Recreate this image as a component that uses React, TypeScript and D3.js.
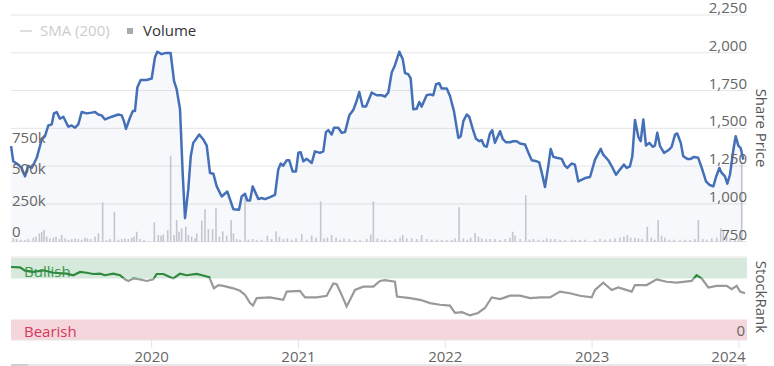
import React from "react";
import * as d3 from "d3";

// ---------- DATA (time in decimal years) ----------
const priceTimes = [
  2019.042, 2019.057, 2019.091, 2019.114, 2019.137, 2019.159, 2019.183, 2019.217, 2019.251, 2019.273,
  2019.296, 2019.319, 2019.334, 2019.353, 2019.375, 2019.398, 2019.432, 2019.455, 2019.478, 2019.5,
  2019.523, 2019.557, 2019.591, 2019.614, 2019.636, 2019.659, 2019.682, 2019.728, 2019.772, 2019.796,
  2019.811, 2019.825, 2019.852, 2019.871, 2019.886, 2019.902, 2019.925, 2019.966, 2020.0, 2020.022,
  2020.038, 2020.068, 2020.091, 2020.129, 2020.152, 2020.17, 2020.193, 2020.211, 2020.227, 2020.249,
  2020.266, 2020.283, 2020.324, 2020.352, 2020.375, 2020.397, 2020.42, 2020.443, 2020.477, 2020.515,
  2020.556, 2020.595, 2020.613, 2020.636, 2020.651, 2020.67, 2020.688, 2020.726, 2020.749, 2020.772,
  2020.806, 2020.84, 2020.862, 2020.879, 2020.896, 2020.92, 2020.937, 2020.96, 2020.983, 2020.999,
  2021.015, 2021.033, 2021.056, 2021.09, 2021.112, 2021.146, 2021.169, 2021.187, 2021.203, 2021.226,
  2021.242, 2021.271, 2021.294, 2021.317, 2021.346, 2021.373, 2021.396, 2021.414, 2021.437, 2021.46,
  2021.499, 2021.533, 2021.567, 2021.589, 2021.612, 2021.635, 2021.657, 2021.687, 2021.71, 2021.726,
  2021.748, 2021.764, 2021.782, 2021.805, 2021.823, 2021.839, 2021.873, 2021.896, 2021.918, 2021.937,
  2021.959, 2021.975, 2022.01, 2022.032, 2022.059, 2022.089, 2022.105, 2022.123, 2022.146, 2022.163,
  2022.187, 2022.209, 2022.232, 2022.248, 2022.264, 2022.282, 2022.304, 2022.32, 2022.338, 2022.373,
  2022.391, 2022.413, 2022.441, 2022.463, 2022.486, 2022.509, 2022.543, 2022.572, 2022.589, 2022.623,
  2022.64, 2022.663, 2022.679, 2022.702, 2022.718, 2022.736, 2022.759, 2022.793, 2022.815, 2022.831,
  2022.86, 2022.883, 2022.906, 2022.952, 2022.986, 2023.02, 2023.059, 2023.076, 2023.11, 2023.134,
  2023.163, 2023.19, 2023.217, 2023.236, 2023.258, 2023.274, 2023.292, 2023.315, 2023.331, 2023.349,
  2023.367, 2023.39, 2023.413, 2023.428, 2023.444, 2023.463, 2023.49, 2023.519, 2023.542, 2023.565,
  2023.58, 2023.604, 2023.621, 2023.649, 2023.672, 2023.694, 2023.723, 2023.747, 2023.776, 2023.798,
  2023.826, 2023.844, 2023.867, 2023.883, 2023.905, 2023.921, 2023.939, 2023.962, 2023.978, 2023.996,
  2024.012, 2024.03,
];
const priceValues = [
  1382, 1282, 1260, 1238, 1182, 1253, 1238, 1305, 1426, 1448,
  1519, 1526, 1599, 1608, 1564, 1577, 1511, 1519, 1504, 1526,
  1608, 1599, 1604, 1608, 1592, 1586, 1559, 1577, 1592, 1586,
  1548, 1497, 1570, 1614, 1614, 1770, 1820, 1820, 1830, 1969,
  2007, 1991, 1998, 1998, 1814, 1759, 1626, 1205, 906, 1094,
  1315, 1404, 1459, 1426, 1386, 1205, 1200, 1116, 1049, 1082,
  965, 961, 1049, 1067, 1023, 1023, 1116, 1032, 1039, 1032,
  1045, 1060, 1227, 1267, 1253, 1289, 1289, 1215, 1215, 1338,
  1342, 1282, 1298, 1271, 1348, 1338, 1348, 1475, 1488, 1459,
  1504, 1504, 1471, 1475, 1586, 1621, 1681, 1741, 1644, 1644,
  1737, 1719, 1719, 1710, 1737, 1870, 1918, 2007, 1958, 1865,
  1858, 1830, 1626, 1630, 1674, 1644, 1719, 1725, 1719, 1792,
  1799, 1763, 1763, 1714, 1614, 1437, 1448, 1548, 1592, 1577,
  1497, 1431, 1415, 1422, 1386, 1378, 1466, 1488, 1404, 1481,
  1431, 1408, 1408, 1415, 1415, 1400, 1393, 1326, 1289, 1282,
  1275, 1182, 1112, 1253, 1364, 1311, 1305, 1298, 1253, 1238,
  1267, 1260, 1149, 1171, 1178, 1293, 1364, 1326, 1289, 1249,
  1193, 1227, 1260, 1238, 1249, 1315, 1555, 1444, 1415, 1559,
  1386, 1404, 1378, 1386, 1471, 1382, 1338, 1355, 1378, 1459,
  1466, 1404, 1315, 1298, 1298, 1311, 1305, 1238, 1149, 1127,
  1116, 1178, 1238, 1205, 1182, 1134, 1193, 1355, 1448, 1386,
  1370, 1293,
];

// volume in thousands of shares
const volumeTimes = [
  2019.058, 2019.08, 2019.108, 2019.137, 2019.16, 2019.194, 2019.212, 2019.235, 2019.251, 2019.267,
  2019.285, 2019.307, 2019.33, 2019.348, 2019.371, 2019.387, 2019.41, 2019.432, 2019.455, 2019.478,
  2019.5, 2019.523, 2019.546, 2019.562, 2019.584, 2019.614, 2019.637, 2019.666, 2019.693, 2019.716,
  2019.746, 2019.773, 2019.796, 2019.818, 2019.841, 2019.864, 2019.88, 2019.898, 2019.921, 2019.948,
  2020.018, 2020.045, 2020.064, 2020.079, 2020.109, 2020.129, 2020.152, 2020.17, 2020.186, 2020.204,
  2020.232, 2020.25, 2020.272, 2020.295, 2020.307, 2020.341, 2020.363, 2020.386, 2020.415, 2020.438,
  2020.461, 2020.484, 2020.511, 2020.541, 2020.557, 2020.579, 2020.602, 2020.636, 2020.658, 2020.688,
  2020.715, 2020.749, 2020.788, 2020.817, 2020.847, 2020.87, 2020.897, 2020.924, 2020.954, 2020.983,
  2021.022, 2021.056, 2021.09, 2021.12, 2021.151, 2021.174, 2021.197, 2021.226, 2021.256, 2021.283,
  2021.31, 2021.346, 2021.385, 2021.419, 2021.465, 2021.492, 2021.51, 2021.537, 2021.567, 2021.589,
  2021.624, 2021.658, 2021.692, 2021.71, 2021.737, 2021.771, 2021.805, 2021.839, 2021.873, 2021.907,
  2021.942, 2021.976, 2022.01, 2022.044, 2022.066, 2022.094, 2022.123, 2022.151, 2022.173, 2022.203,
  2022.226, 2022.248, 2022.278, 2022.305, 2022.339, 2022.373, 2022.407, 2022.441, 2022.459, 2022.475,
  2022.51, 2022.548, 2022.573, 2022.6, 2022.634, 2022.668, 2022.691, 2022.718, 2022.747, 2022.782,
  2022.816, 2022.861, 2022.884, 2022.918, 2022.952, 2023.02, 2023.054, 2023.088, 2023.122, 2023.156,
  2023.19, 2023.217, 2023.24, 2023.263, 2023.292, 2023.315, 2023.34, 2023.376, 2023.404, 2023.427,
  2023.45, 2023.473, 2023.496, 2023.526, 2023.558, 2023.599, 2023.633, 2023.667, 2023.701, 2023.724,
  2023.754, 2023.781, 2023.815, 2023.849, 2023.876, 2023.894, 2023.917, 2023.94, 2023.974, 2023.999,
  2024.019,
];
const volumeValues = [
  26, 21, 16, 13, 21, 32, 40, 66, 79, 93,
  40, 26, 32, 40, 21, 53, 26, 16, 21, 26,
  21, 16, 32, 26, 21, 40, 66, 312, 13, 21,
  238, 16, 21, 26, 21, 32, 40, 79, 21, 13,
  153, 53, 48, 58, 93, 683, 53, 172, 79, 106,
  119, 53, 40, 26, 66, 167, 259, 100, 100, 267,
  40, 82, 48, 172, 66, 21, 16, 373, 16, 21,
  13, 16, 48, 21, 82, 40, 21, 26, 16, 26,
  61, 16, 48, 32, 320, 26, 32, 53, 32, 16,
  26, 21, 13, 13, 21, 58, 320, 26, 16, 16,
  13, 21, 32, 53, 26, 26, 21, 53, 21, 16,
  16, 13, 13, 13, 26, 273, 26, 16, 32, 69,
  40, 26, 21, 21, 21, 13, 21, 32, 79, 48,
  21, 370, 16, 21, 16, 13, 26, 21, 21, 16,
  13, 16, 13, 13, 16, 13, 21, 16, 21, 26,
  32, 40, 53, 32, 32, 26, 21, 119, 32, 16,
  172, 48, 32, 16, 16, 13, 16, 13, 21, 172,
  21, 16, 26, 32, 106, 93, 40, 26, 21, 32,
  635,
];

const rankTimes = [
  2019.042, 2019.103, 2019.137, 2019.193, 2019.262, 2019.33, 2019.421, 2019.466, 2019.512, 2019.557,
  2019.602, 2019.648, 2019.682, 2019.738, 2019.784, 2019.818, 2019.841, 2019.875, 2019.92, 2019.966,
  2020.011, 2020.034, 2020.079, 2020.147, 2020.193, 2020.238, 2020.307, 2020.363, 2020.392, 2020.424,
  2020.454, 2020.488, 2020.556, 2020.602, 2020.636, 2020.67, 2020.69, 2020.715, 2020.806, 2020.896,
  2020.92, 2021.01, 2021.044, 2021.124, 2021.192, 2021.237, 2021.26, 2021.294, 2021.328, 2021.385,
  2021.441, 2021.51, 2021.555, 2021.589, 2021.657, 2021.671, 2021.76, 2021.828, 2021.896, 2021.964,
  2022.032, 2022.066, 2022.114, 2022.168, 2022.223, 2022.27, 2022.316, 2022.373, 2022.441, 2022.509,
  2022.577, 2022.652, 2022.713, 2022.781, 2022.849, 2022.917, 2022.997, 2023.02, 2023.076, 2023.134,
  2023.178, 2023.27, 2023.292, 2023.372, 2023.44, 2023.508, 2023.576, 2023.678, 2023.712, 2023.747,
  2023.792, 2023.849, 2023.917, 2023.951, 2023.985, 2024.008, 2024.042,
];
const rankValues = [
  89, 88.6, 84.5, 83, 85, 82, 81, 79, 83, 82,
  80.5, 81, 79, 81, 79, 74, 72, 75, 74, 72,
  74, 80.5, 80.5, 75, 81, 79, 80.5, 78, 76.5, 63,
  67, 66, 63, 60, 55, 45, 42, 51, 52, 49,
  59, 60, 52, 52, 54, 69, 68, 55, 41, 61,
  65, 65, 72, 73, 71, 53, 51, 49, 45, 43,
  42, 33, 34, 30, 33, 39, 52, 50, 54, 54,
  51, 52, 52, 59, 57, 54, 52, 61, 70, 61,
  64, 59, 67, 67, 74, 71, 70, 72, 79, 75,
  64, 66, 66, 62, 66, 59, 57,
];

const priceTicks = [750, 1000, 1250, 1500, 1750, 2000, 2250];
const volumeTicks = [0, 250, 500, 750];
const volumeTickLabels = ["0", "250k", "500k", "750k"];
const yearTicks = [2020, 2021, 2022, 2023, 2024];

const FONT = "'Open Sans', 'DejaVu Sans', sans-serif";

export default function App() {
  const W = 774;
  const H = 366;
  const left = 11;
  const right = 747;
  const priceTop = 15;
  const priceBottom = 241.7;
  const rankTop = 258;
  const rankBottom = 340;

  const x = d3.scaleLinear().domain([2019.0416, 2024.0552]).range([left, right]);
  const yP = d3.scaleLinear().domain([750, 2250]).range([priceBottom, priceTop]);
  const yV = d3.scaleLinear().domain([0, 1800]).range([priceBottom, priceTop]);
  const yR = d3.scaleLinear().domain([0, 100]).range([rankBottom, rankTop]);

  const pricePts: [number, number][] = priceTimes.map((t, i) => [t, priceValues[i]]);
  const rankPts: [number, number][] = rankTimes.map((t, i) => [t, rankValues[i]]);

  const priceLine = d3
    .line<[number, number]>()
    .x((d) => x(d[0]))
    .y((d) => yP(d[1]));
  const priceArea = d3
    .area<[number, number]>()
    .x((d) => x(d[0]))
    .y0(priceBottom)
    .y1((d) => yP(d[1]));
  const rankLine = d3
    .line<[number, number]>()
    .x((d) => x(d[0]))
    .y((d) => yR(d[1]));

  const bullY = yR(75);

  return (
    <div style={{ position: "absolute", left: 0, top: 0 }}>
      <svg width={W} height={H} style={{ display: "block", fontFamily: FONT }}>
        <defs>
          <clipPath id="clipBull">
            <rect x={0} y={0} width={W} height={bullY} />
          </clipPath>
          <clipPath id="clipBear">
            <rect x={0} y={bullY} width={W} height={H - bullY} />
          </clipPath>
        </defs>
        <rect width={W} height={H} fill="#ffffff" />

        {/* price grid */}
        {priceTicks.map((p) => (
          <line key={"g" + p} x1={left} x2={right} y1={yP(p)} y2={yP(p)} stroke="#e6e6e6" strokeWidth={1} />
        ))}

        {/* volume bars */}
        {volumeTimes.map((t, i) => (
          <rect
            key={"v" + i}
            x={x(t) - 0.8}
            y={yV(volumeValues[i])}
            width={1.6}
            height={priceBottom - yV(volumeValues[i])}
            fill="#cbcbd0"
          />
        ))}

        {/* price area + line */}
        <path d={priceArea(pricePts) || ""} fill="rgba(70,110,190,0.05)" />
        <path d={priceLine(pricePts) || ""} fill="none" stroke="#4470b8" strokeWidth={2.5} strokeLinejoin="round" />

        {/* volume axis labels */}
        {volumeTicks.map((v, i) => (
          <text key={"vl" + v} x={12} y={yV(v) - 4.5} fontSize={15} fill="#666">
            {volumeTickLabels[i]}
          </text>
        ))}

        {/* price axis labels */}
        {priceTicks.map((p) => (
          <text key={"pl" + p} x={right} y={yP(p) - 2} fontSize={15} fill="#666" textAnchor="end">
            {d3.format(",")(p)}
          </text>
        ))}
        <text
          transform={`translate(756,128) rotate(90)`}
          fontSize={15}
          fill="#555"
          textAnchor="middle"
        >
          Share Price
        </text>

        {/* legend */}
        <line x1={20} x2={32} y1={31} y2={31} stroke="#d4d4d4" strokeWidth={1.5} />
        <text x={40} y={36} fontSize={15} fill="#cccccc">
          SMA (200)
        </text>
        <rect x={127} y={28} width={6} height={6} fill="#a9a9b0" />
        <text x={143} y={36} fontSize={15} fill="#333333">
          Volume
        </text>

        {/* StockRank panel */}
        <line x1={left} x2={right} y1={rankTop - 1} y2={rankTop - 1} stroke="#e6e6e6" />
        <rect x={left} y={yR(100)} width={right - left} height={yR(75) - yR(100)} fill="#d6e9dc" />
        <rect x={left} y={yR(25)} width={right - left} height={yR(0) - yR(25)} fill="#f5d6dc" />
        <text x={24} y={277} fontSize={15} fill="#3a9a4a">
          Bullish
        </text>
        <text x={24} y={337} fontSize={15} fill="#d6385c">
          Bearish
        </text>
        <path d={rankLine(rankPts) || ""} fill="none" stroke="#2f8a3f" strokeWidth={2.2} clipPath="url(#clipBull)" />
        <path d={rankLine(rankPts) || ""} fill="none" stroke="#999999" strokeWidth={2.2} clipPath="url(#clipBear)" />
        <line x1={left} x2={right} y1={rankBottom} y2={rankBottom} stroke="#e6e6e6" />
        <text x={745} y={336} fontSize={15} fill="#666" textAnchor="end">
          0
        </text>
        <text
          transform={`translate(756,297) rotate(90)`}
          fontSize={15}
          fill="#555"
          textAnchor="middle"
        >
          StockRank
        </text>

        {/* x axis */}
        {yearTicks.map((yr) => {
          const xx = x(yr);
          const w = 35;
          let cx = xx;
          if (cx + w / 2 > 746) cx = 746 - w / 2;
          return (
            <g key={"y" + yr}>
              <line x1={xx} x2={xx} y1={rankBottom} y2={rankBottom + 8} stroke="#dde3ee" />
              <text x={cx} y={361.5} fontSize={15} fill="#666" textAnchor="middle">
                {yr}
              </text>
            </g>
          );
        })}
        <line x1={left} x2={right} y1={365} y2={365} stroke="#e0e0e0" strokeWidth={1.5} />
        <line x1={left} x2={28} y1={365} y2={365} stroke="#c8c8c8" strokeWidth={1.5} />
      </svg>
    </div>
  );
}
